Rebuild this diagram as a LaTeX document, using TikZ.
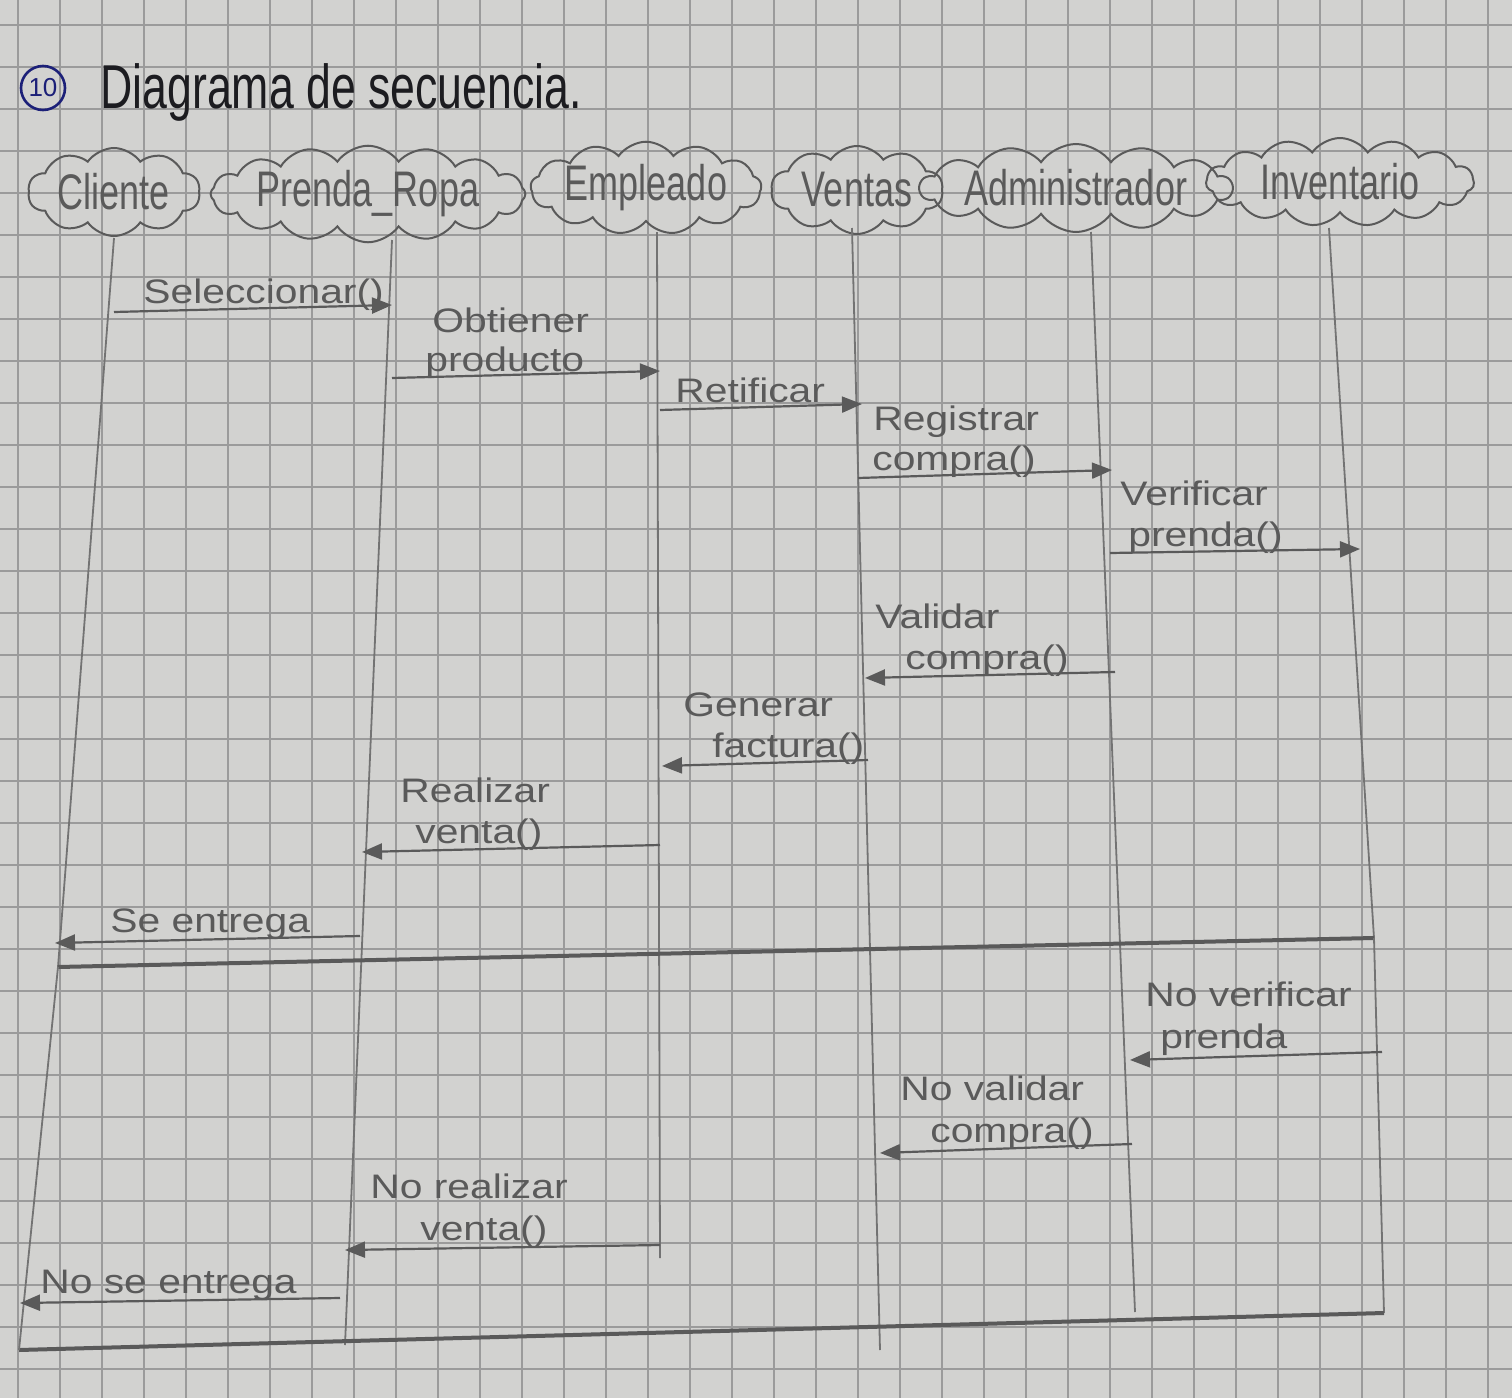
\documentclass[tikz,border=0pt]{standalone}
\usepackage{fontspec}
\setmainfont{Liberation Sans}
\usetikzlibrary{positioning,arrows.meta,shapes.symbols}
\definecolor{paper}{RGB}{210,210,208}
\definecolor{gridline}{RGB}{155,155,155}
\definecolor{pencil}{RGB}{90,90,90}
\definecolor{ink}{RGB}{28,28,32}
\definecolor{blueink}{RGB}{28,32,120}
\newcommand{\handtxt}[1]{\scalebox{0.72}[1]{#1}}
\newcommand{\hw}[1]{\scalebox{1.2}[1]{#1}}

\begin{document}
\begin{tikzpicture}
                [x=0.5pt, y=-0.5pt,
                 actor/.style = {cloud, cloud puffs=14, cloud puff arc=110, cloud ignores aspect, draw=pencil, line width=1pt, minimum height=44pt, text=pencil, font=\fontsize{25}{28}\selectfont, inner sep=0pt},
                 msg/.style = {draw=pencil, line width=1.1pt, -{Triangle[length=10pt, width=8pt]}},
                 life/.style = {draw=pencil!85, line width=0.9pt},
                 bar/.style = {draw=pencil, line width=2pt},
                 lbl/.style = {text=pencil, font=\fontsize{17}{19}\selectfont, anchor=base west, inner sep=0pt}]
                % Paper
                \clip (0,0) rectangle (1512,1398);
                \fill[paper] (0,0) rectangle (1512,1398);
                \begin{scope}[shift={(18,25)}]
                    \draw[gridline, line width=0.6pt, step=21pt] (-84,-84) grid (1540,1420);
                \end{scope}
                % Title
                \node[circle, draw=blueink, line width=1.3pt, text=blueink, minimum size=22pt, inner sep=0pt, font=\fontsize{13}{13}\selectfont] (num) at (43,88) {10};
                \node[anchor=base west, text=ink, font=\fontsize{31}{34}\selectfont, inner sep=0pt] (title) at (100,108) {\handtxt{Diagrama de secuencia.}};
                % Participants
                \node[actor, minimum width=86pt, cloud puffs=10] (cli) at (114,192) {\handtxt{Cliente}};
                \node[actor, minimum width=156pt, cloud puffs=16] (pre) at (368,194) {\handtxt{Prenda\_Ropa}};
                \node[actor, minimum width=115pt, cloud puffs=13] (emp) at (646,188) {\handtxt{Empleado}};
                \node[actor, minimum width=86pt, cloud puffs=10] (ven) at (857,190) {\handtxt{Ventas}};
                \node[actor, minimum width=124pt, cloud puffs=14] (adm) at (1076,188) {\handtxt{Administrador}};
                \node[actor, minimum width=134pt, cloud puffs=15] (inv) at (1340,182) {\handtxt{Inventario}};
                % Lifelines
                \coordinate (cliT) at (114,238);
                \coordinate (cliB) at (58,967);
                \coordinate (preT) at (392,240);
                \coordinate (preB) at (345,1345);
                \coordinate (empT) at (657,232);
                \coordinate (empB) at (660,1258);
                \coordinate (venT) at (852,228);
                \coordinate (venB) at (880,1350);
                \coordinate (admT) at (1091,232);
                \coordinate (admB) at (1135,1312);
                \coordinate (invT) at (1329,228);
                \coordinate (invB) at (1374,938);
                \path[life] (cliT) edge (cliB);
                \path[life] (preT) edge (preB);
                \path[life] (empT) edge (empB);
                \path[life] (venT) edge (venB);
                \path[life] (admT) edge (admB);
                \path[life] (invT) edge (invB);
                % Frame
                \coordinate (fbr) at (1384,1313);
                \coordinate (fbl) at (19,1350);
                \draw[bar] (cliB) -- (invB);
                \draw[life] (invB) -- (fbr);
                \draw[bar] (fbr) -- (fbl);
                \draw[life] (fbl) -- (cliB);
                % Message ends
                \coordinate (a1) at (114,312);   \coordinate (b1) at (392,305);
                \coordinate (a2) at (392,378);   \coordinate (b2) at (660,371);
                \coordinate (a3) at (660,410);   \coordinate (b3) at (862,404);
                \coordinate (a4) at (858,478);   \coordinate (b4) at (1112,470);
                \coordinate (a5) at (1110,553);  \coordinate (b5) at (1360,549);
                \coordinate (a6) at (1115,672);  \coordinate (b6) at (865,678);
                \coordinate (a7) at (868,760);   \coordinate (b7) at (662,766);
                \coordinate (a8) at (660,845);   \coordinate (b8) at (362,852);
                \coordinate (a9) at (360,936);   \coordinate (b9) at (55,943);
                \coordinate (a10) at (1382,1052); \coordinate (b10) at (1130,1060);
                \coordinate (a11) at (1132,1144); \coordinate (b11) at (880,1153);
                \coordinate (a12) at (660,1245);  \coordinate (b12) at (345,1250);
                \coordinate (a13) at (340,1298);  \coordinate (b13) at (20,1303);
                % Messages
                \draw[msg] (a1) -- (b1);
                \draw[msg] (a2) -- (b2);
                \draw[msg] (a3) -- (b3);
                \draw[msg] (a4) -- (b4);
                \draw[msg] (a5) -- (b5);
                \draw[msg] (a6) -- (b6);
                \draw[msg] (a7) -- (b7);
                \draw[msg] (a8) -- (b8);
                \draw[msg] (a9) -- (b9);
                \draw[msg] (a10) -- (b10);
                \draw[msg] (a11) -- (b11);
                \draw[msg] (a12) -- (b12);
                \draw[msg] (a13) -- (b13);
                % Labels
                \node[lbl] (l1) at (143,303) {\hw{Seleccionar()}};
                \node[lbl] (l2a) at (432,332) {\hw{Obtiener}};
                \node[lbl] (l2b) at (425,371) {\hw{producto}};
                \node[lbl] (l3) at (675,402) {\hw{Retificar}};
                \node[lbl] (l4a) at (873,430) {\hw{Registrar}};
                \node[lbl] (l4b) at (872,470) {\hw{compra()}};
                \node[lbl] (l5a) at (1120,505) {\hw{Verificar}};
                \node[lbl] (l5b) at (1128,546) {\hw{prenda()}};
                \node[lbl] (l6a) at (875,628) {\hw{Validar}};
                \node[lbl] (l6b) at (905,669) {\hw{compra()}};
                \node[lbl] (l7a) at (683,716) {\hw{Generar}};
                \node[lbl] (l7b) at (712,757) {\hw{factura()}};
                \node[lbl] (l8a) at (400,802) {\hw{Realizar}};
                \node[lbl] (l8b) at (415,843) {\hw{venta()}};
                \node[lbl] (l9) at (110,932) {\hw{Se entrega}};
                \node[lbl] (l10a) at (1145,1006) {\hw{No verificar}};
                \node[lbl] (l10b) at (1160,1048) {\hw{prenda}};
                \node[lbl] (l11a) at (900,1100) {\hw{No validar}};
                \node[lbl] (l11b) at (930,1142) {\hw{compra()}};
                \node[lbl] (l12a) at (370,1198) {\hw{No realizar}};
                \node[lbl] (l12b) at (420,1240) {\hw{venta()}};
                \node[lbl] (l13) at (40,1293) {\hw{No se entrega}};
            \end{tikzpicture}
\end{document}
